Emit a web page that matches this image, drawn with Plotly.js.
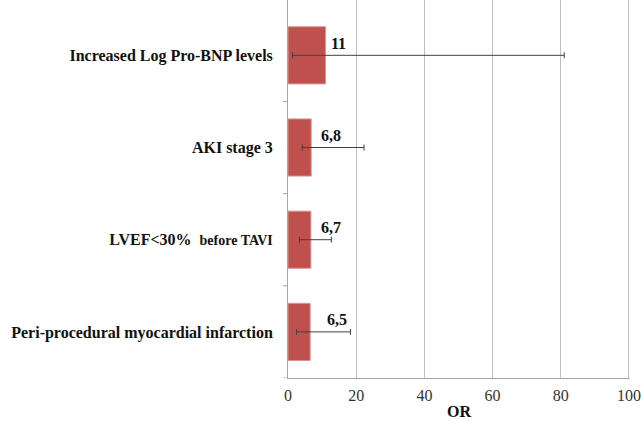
<!DOCTYPE html>
<html>
<head>
<meta charset="utf-8">
<script src="https://cdn.plot.ly/plotly-3.0.1.min.js"></script>
<style>html,body{margin:0;padding:0;background:#fff;}#chart{width:641px;height:421px;}</style>
</head>
<body>
<div id="chart"></div>
<script>
// Data (bottom to top)
const categories = [
  "Peri-procedural myocardial infarction",
  "LVEF<30%  <span style='font-size:14px'>before TAVI</span>",
  "AKI stage 3",
  "Increased Log Pro-BNP levels"
];
const orValues = [6.5, 6.7, 6.8, 11];
const ciLow = [2.5, 3.4, 4.2, 1.3];
const ciHigh = [18.3, 12.7, 22.3, 81];
const valueLabels = ["6,5", "6,7", "6,8", "11"];
const xTickVals = [0, 20, 40, 60, 80, 100];

// label pixel offsets from bar end
const labelXShift = [27, 20, 20, 13];

const idx = categories.map((_, i) => i);

const trace = {
  type: 'bar',
  orientation: 'h',
  x: orValues,
  y: idx,
  width: 0.62,
  marker: {color: '#c0504d', line: {color: '#d99694', width: 1}},
  error_x: {
    type: 'data',
    symmetric: false,
    array: orValues.map((v, i) => ciHigh[i] - v),
    arrayminus: orValues.map((v, i) => v - ciLow[i]),
    color: '#404040',
    thickness: 1,
    width: 3
  },
  hoverinfo: 'none'
};

const annotations = orValues.map((v, i) => ({
  x: v, y: idx[i], xref: 'x', yref: 'y',
  text: '<b>' + valueLabels[i] + '</b>',
  showarrow: false,
  xanchor: 'center', yanchor: 'middle',
  xshift: labelXShift[i], yshift: 12,
  font: {family: 'Liberation Serif', size: 16, color: '#111'}
}));

annotations.push({
  x: 0.5, y: 0, xref: 'paper', yref: 'paper',
  text: '<b>OR</b>', showarrow: false,
  yshift: -33, yanchor: 'middle',
  font: {family: 'Liberation Serif', size: 16, color: '#111'}
});

const layout = {
  width: 641, height: 421,
  margin: {l: 288, r: 11, t: 0, b: 43},
  paper_bgcolor: '#fff', plot_bgcolor: '#fff',
  showlegend: false,
  font: {family: 'Liberation Serif', color: '#111'},
  xaxis: {
    range: [0, 100.3],
    tickvals: xTickVals,
    ticktext: xTickVals.map(String),
    showgrid: true, gridcolor: '#bfbfbf', gridwidth: 1,
    zeroline: false,
    showline: true, linecolor: '#a6a6a6', linewidth: 1,
    ticks: '',
    ticklabelstandoff: 3,
    tickfont: {family: 'Liberation Serif', size: 16, color: '#333'},
    fixedrange: true
  },
  yaxis: {
    range: [-0.5, 3.6],
    tickvals: idx,
    ticktext: categories.map(c => '<b>' + c + '</b>'),
    showgrid: false, zeroline: false,
    showline: true, linecolor: '#a6a6a6', linewidth: 1,
    ticks: '',
    ticklabelstandoff: 11,
    tickfont: {family: 'Liberation Serif', size: 16, color: '#111'},
    fixedrange: true
  },
  shapes: [-0.5, 0.5, 1.5, 2.5].map(b => ({
    type: 'line', xref: 'paper', yref: 'y',
    x0: -0.015, x1: 0, y0: b, y1: b,
    line: {color: '#a6a6a6', width: 1}
  })),
  annotations: annotations
};

Plotly.newPlot('chart', [trace], layout, {displayModeBar: false, staticPlot: true});
</script>
</body>
</html>
